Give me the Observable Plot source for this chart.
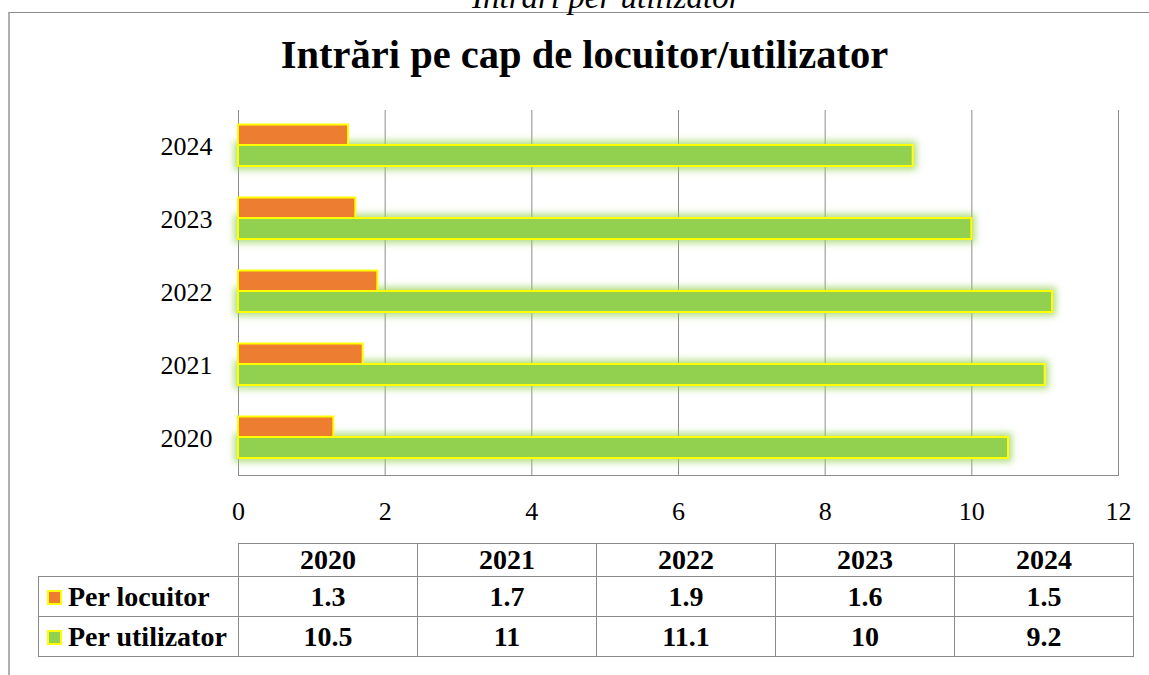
<!DOCTYPE html>
<html>
<head>
<meta charset="utf-8">
<script src="https://cdn.jsdelivr.net/npm/d3@7"></script>
<script src="https://cdn.jsdelivr.net/npm/@observablehq/plot@0.6"></script>
<style>
  html, body { margin: 0; padding: 0; background: #fff; width: 1149px; height: 675px; overflow: hidden; }
  #page { position: relative; width: 1149px; height: 675px; }
  #frame { position: absolute; left: 8px; top: 12px; width: 1200px; height: 700px;
           border-left: 2px solid #b0b0b0; border-top: 1.5px solid #8a8a8a; box-sizing: border-box; }
  #caption { position: absolute; left: 472px; top: -19px; font-family: "Liberation Serif", serif;
             font-style: italic; font-size: 33px; line-height: 33px; color: #000; white-space: nowrap; }
  #title { position: absolute; left: 10px; width: 1149px; top: 35px; text-align: center;
           font-family: "Liberation Serif", serif; font-weight: bold; font-size: 40.5px; line-height: 40px; color: #000; }
  #chart { position: absolute; left: 0; top: 0; }
  #table { position: absolute; left: 38px; top: 543px; }
  #table table { border-collapse: collapse; font-family: "Liberation Serif", serif; font-weight: bold;
                 font-size: 28px; color: #000; }
  #table td { border: 1px solid #8a8a8a; text-align: center; padding: 0; }
  #table td.blank { border-top: none; border-left: none; }
  #table td.name { text-align: left; padding-left: 8px; white-space: nowrap; }
  .swatch { display: inline-block; width: 11px; height: 11px; border: 2px solid #ffff00; margin-right: 6px;
            vertical-align: 1px; }
</style>
</head>
<body>
<div id="page">
  <div id="frame"></div>
  <div id="caption"></div>
  <div id="title"></div>
  <div id="chart"></div>
  <div id="table"></div>
</div>
<script>
// ---- data ----
const captionText = "Intrări per utilizator";
const titleText = "Intrări pe cap de locuitor/utilizator";
const years = ["2020", "2021", "2022", "2023", "2024"];
const perLocuitor = [1.3, 1.7, 1.9, 1.6, 1.5];
const perUtilizator = [10.5, 11, 11.1, 10, 9.2];
const seriesNames = ["Per locuitor", "Per utilizator"];
const seriesColors = ["#ED7D31", "#92D050"];
const xTicks = [0, 2, 4, 6, 8, 10, 12];

document.getElementById("caption").textContent = captionText;
document.getElementById("title").textContent = titleText;

const locRows = years.map((y, i) => ({year: y, value: perLocuitor[i], series: seriesNames[0]}));
const utilRows = years.map((y, i) => ({year: y, value: perUtilizator[i], series: seriesNames[1]}));

const chart = Plot.plot({
  width: 1149,
  height: 530,
  marginLeft: 238,
  marginRight: 31,
  marginTop: 110,
  marginBottom: 55,
  style: {fontFamily: "Liberation Serif, serif", fontSize: "26px", color: "#000", background: "transparent"},
  x: {domain: [0, 12], ticks: xTicks, tickSize: 0, tickPadding: 26, label: null, tickFormat: d => String(d)},
  y: {domain: years.slice().reverse(), padding: 0, tickSize: 0, tickPadding: 26, label: null},
  marks: [
    Plot.gridX(xTicks, {stroke: "#8c8c8c", strokeOpacity: 1, strokeWidth: 1}),
    Plot.frame({anchor: "bottom", stroke: "#8c8c8c", strokeWidth: 1}),
    Plot.barX(utilRows, {x: "value", y: "year", fill: seriesColors[1], stroke: "#ffff00", strokeWidth: 2,
                         insetTop: 35, insetBottom: 17, insetLeft: 0, insetRight: 0}),
    Plot.barX(locRows, {x: "value", y: "year", fill: seriesColors[0], stroke: "#ffff00", strokeWidth: 2,
                        insetTop: 14.5, insetBottom: 38, insetLeft: 0, insetRight: 0})
  ]
});
document.getElementById("chart").appendChild(chart);

// glow filter for the green bars
const svg = d3.select(chart);
const defs = svg.insert("defs", ":first-child");
const f = defs.append("filter").attr("id", "greenGlow")
  .attr("x", "-5%").attr("y", "-20%").attr("width", "110%").attr("height", "140%");
f.append("feMorphology").attr("operator", "dilate").attr("radius", 2.5).attr("in", "SourceAlpha").attr("result", "d");
f.append("feGaussianBlur").attr("in", "d").attr("stdDeviation", 3.5).attr("result", "b");
f.append("feFlood").attr("flood-color", "#92D050").attr("flood-opacity", 0.7).attr("result", "c");
f.append("feComposite").attr("in", "c").attr("in2", "b").attr("operator", "in").attr("result", "g");
const m = f.append("feMerge");
m.append("feMergeNode").attr("in", "g");
m.append("feMergeNode").attr("in", "SourceGraphic");
const barGroups = svg.selectAll("g[aria-label='bar']").nodes();
if (barGroups.length) d3.select(barGroups[0]).attr("filter", "url(#greenGlow)");
svg.selectAll("g[aria-label='x-axis tick label'] text, g[aria-label='y-axis tick label'] text").attr("fill", "#000");

// data table
const tbl = d3.select("#table").append("table");
const colgroup = tbl.append("colgroup");
colgroup.append("col").style("width", "200px");
years.forEach(() => colgroup.append("col").style("width", "179px"));
const head = tbl.append("tr").style("height", "31px");
head.append("td").attr("class", "blank");
years.forEach(y => head.append("td").text(y));
[perLocuitor, perUtilizator].forEach((vals, si) => {
  const tr = tbl.append("tr").style("height", si === 0 ? "40px" : "40px");
  const nameCell = tr.append("td").attr("class", "name");
  nameCell.append("span").attr("class", "swatch").style("background", seriesColors[si]);
  nameCell.append("span").text(seriesNames[si]);
  vals.forEach(v => tr.append("td").text(String(v)));
});
</script>
</body>
</html>
